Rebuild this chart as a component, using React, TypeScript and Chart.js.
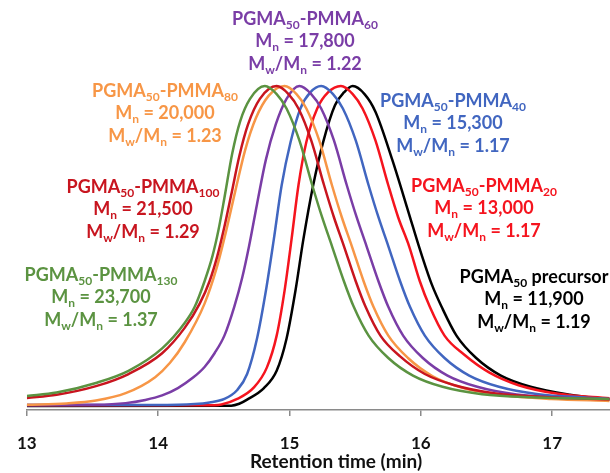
import { useEffect, useRef } from 'react';
import { Chart, registerables } from 'chart.js';

Chart.register(...registerables);

// Retention time axis
const xMin = 13;
const xMax = 17.44;
const tickValues = [13, 14, 15, 16, 17];
const axisTitle = 'Retention time (min)';

// PGMA50-PMMA130 (green)
const pmma130Time = [13.0, 13.226, 13.526, 13.774, 14.03, 14.203, 14.278, 14.353, 14.414, 14.459, 14.504, 14.564, 14.624, 14.699, 14.812, 14.902, 14.977, 15.075, 15.173, 15.248, 15.323, 15.414, 15.489, 15.602, 15.752, 15.94, 16.165, 16.466, 16.842, 17.436];
const pmma130Signal = [0.031, 0.042, 0.072, 0.11, 0.18, 0.26, 0.31, 0.39, 0.47, 0.55, 0.65, 0.79, 0.89, 0.96, 1.0, 0.975, 0.93, 0.83, 0.69, 0.59, 0.5, 0.39, 0.31, 0.22, 0.15, 0.095, 0.06, 0.037, 0.027, 0.022];

// PGMA50-PMMA100 (dark red)
const pmma100Time = [13.0, 13.226, 13.526, 13.774, 14.03, 14.203, 14.316, 14.391, 14.451, 14.504, 14.556, 14.617, 14.684, 14.774, 14.902, 14.992, 15.068, 15.165, 15.263, 15.338, 15.414, 15.504, 15.579, 15.692, 15.842, 16.03, 16.256, 16.556, 16.932, 17.436];
const pmma100Signal = [0.025, 0.035, 0.062, 0.1, 0.165, 0.245, 0.32, 0.39, 0.47, 0.56, 0.66, 0.78, 0.88, 0.96, 1.0, 0.975, 0.93, 0.83, 0.69, 0.59, 0.5, 0.39, 0.31, 0.22, 0.155, 0.1, 0.065, 0.04, 0.028, 0.02];

// PGMA50-PMMA80 (orange)
const pmma80Time = [13.0, 13.301, 13.526, 13.752, 13.977, 14.09, 14.203, 14.353, 14.444, 14.519, 14.586, 14.662, 14.744, 14.842, 14.962, 15.053, 15.128, 15.226, 15.323, 15.398, 15.474, 15.564, 15.639, 15.752, 15.902, 16.09, 16.316, 16.617, 16.992, 17.436];
const pmma80Signal = [0.004, 0.008, 0.017, 0.04, 0.09, 0.135, 0.2, 0.32, 0.43, 0.55, 0.67, 0.8, 0.9, 0.97, 1.0, 0.975, 0.93, 0.83, 0.69, 0.59, 0.5, 0.39, 0.31, 0.22, 0.15, 0.093, 0.057, 0.034, 0.022, 0.016];

// PGMA50-PMMA60 (purple)
const pmma60Time = [13.0, 13.526, 13.752, 13.902, 14.03, 14.15, 14.263, 14.353, 14.429, 14.504, 14.579, 14.639, 14.692, 14.752, 14.82, 14.895, 14.977, 15.075, 15.165, 15.241, 15.338, 15.436, 15.511, 15.586, 15.677, 15.752, 15.865, 16.015, 16.203, 16.429, 16.729, 17.105, 17.436];
const pmma60Signal = [0.003, 0.004, 0.009, 0.019, 0.033, 0.056, 0.088, 0.122, 0.165, 0.22, 0.31, 0.4, 0.5, 0.63, 0.77, 0.88, 0.96, 1.0, 0.975, 0.93, 0.83, 0.69, 0.59, 0.5, 0.39, 0.31, 0.22, 0.15, 0.095, 0.06, 0.036, 0.025, 0.02];

// PGMA50-PMMA40 (blue)
const pmma40Time = [13.0, 13.977, 14.278, 14.391, 14.504, 14.602, 14.677, 14.752, 14.82, 14.88, 14.94, 15.008, 15.083, 15.158, 15.241, 15.331, 15.406, 15.504, 15.602, 15.677, 15.752, 15.842, 15.917, 16.03, 16.18, 16.368, 16.594, 16.895, 17.271, 17.436];
const pmma40Signal = [0.003, 0.003, 0.006, 0.011, 0.022, 0.05, 0.1, 0.21, 0.36, 0.52, 0.69, 0.825, 0.93, 0.98, 1.0, 0.975, 0.93, 0.83, 0.69, 0.59, 0.5, 0.39, 0.31, 0.22, 0.15, 0.095, 0.06, 0.037, 0.026, 0.022];

// PGMA50-PMMA20 (red)
const pmma20Time = [13.0, 14.353, 14.481, 14.602, 14.729, 14.827, 14.902, 14.962, 15.015, 15.068, 15.128, 15.211, 15.293, 15.391, 15.481, 15.556, 15.654, 15.752, 15.827, 15.91, 15.992, 16.068, 16.18, 16.331, 16.519, 16.744, 17.045, 17.436];
const pmma20Signal = [0.002, 0.002, 0.005, 0.022, 0.058, 0.12, 0.22, 0.36, 0.52, 0.69, 0.825, 0.93, 0.98, 1.0, 0.975, 0.93, 0.83, 0.69, 0.59, 0.5, 0.39, 0.31, 0.22, 0.16, 0.105, 0.065, 0.038, 0.024];

// PGMA50 precursor (black)
const precursorTime = [13.0, 14.556, 14.617, 14.677, 14.805, 14.902, 14.977, 15.045, 15.105, 15.18, 15.256, 15.346, 15.414, 15.481, 15.571, 15.654, 15.782, 15.91, 15.992, 16.083, 16.158, 16.271, 16.421, 16.609, 16.835, 17.135, 17.436];
const precursorSignal = [0.0, 0.001, 0.007, 0.02, 0.056, 0.11, 0.21, 0.36, 0.52, 0.69, 0.825, 0.94, 0.98, 1.0, 0.975, 0.92, 0.77, 0.6, 0.49, 0.38, 0.31, 0.22, 0.15, 0.095, 0.06, 0.035, 0.02];

type Seg = [string, boolean];

const seriesColors = ['#5b9341', '#c8151f', '#f79646', '#7a3da6', '#4166c0', '#f5141e', '#000000'];
const seriesTimes = [pmma130Time, pmma100Time, pmma80Time, pmma60Time, pmma40Time, pmma20Time, precursorTime];
const seriesSignals = [pmma130Signal, pmma100Signal, pmma80Signal, pmma60Signal, pmma40Signal, pmma20Signal, precursorSignal];
const seriesNames = ['PGMA50-PMMA130', 'PGMA50-PMMA100', 'PGMA50-PMMA80', 'PGMA50-PMMA60', 'PGMA50-PMMA40', 'PGMA50-PMMA20', 'PGMA50 precursor'];

// Annotation texts
const labelTitles: Seg[][] = [
  [['PGMA', false], ['50', true], ['-PMMA', false], ['130', true]],
  [['PGMA', false], ['50', true], ['-PMMA', false], ['100', true]],
  [['PGMA', false], ['50', true], ['-PMMA', false], ['80', true]],
  [['PGMA', false], ['50', true], ['-PMMA', false], ['60', true]],
  [['PGMA', false], ['50', true], ['-PMMA', false], ['40', true]],
  [['PGMA', false], ['50', true], ['-PMMA', false], ['20', true]],
  [['PGMA', false], ['50', true], [' precursor', false]],
];
const mnValues = ['23,700', '21,500', '20,000', '17,800', '15,300', '13,000', '11,900'];
const pdiValues = ['1.37', '1.29', '1.23', '1.22', '1.17', '1.17', '1.19'];

// label placement (pixel centre of first line)
const labelPos = [
  [101, 274],
  [143, 186],
  [165, 90],
  [305, 18],
  [453, 100],
  [484, 185],
  [534, 276],
];
const lineGap = 22.5;

function drawSegs(ctx: CanvasRenderingContext2D, segs: Seg[], cx: number, cy: number, color: string) {
  const mainFont = 'bold 18px Lato';
  const subFont = 'bold 12px Lato';
  let total = 0;
  const widths = segs.map(([t, sub]) => {
    ctx.font = sub ? subFont : mainFont;
    const w = ctx.measureText(t).width;
    total += w;
    return w;
  });
  let x = cx - total / 2;
  const base = cy + 6.5;
  ctx.fillStyle = color;
  ctx.textAlign = 'left';
  ctx.textBaseline = 'alphabetic';
  segs.forEach(([t, sub], i) => {
    ctx.font = sub ? subFont : mainFont;
    ctx.fillText(t, x, sub ? base + 4 : base);
    x += widths[i];
  });
}

const annotationPlugin = {
  id: 'gpcLabels',
  afterDraw(chart: any) {
    const ctx = chart.ctx as CanvasRenderingContext2D;
    ctx.save();
    labelTitles.forEach((title, i) => {
      const [cx, cy] = labelPos[i];
      const col = seriesColors[i];
      drawSegs(ctx, title, cx, cy, col);
      drawSegs(ctx, [['M', false], ['n', true], [' = ' + mnValues[i], false]], cx, cy + lineGap, col);
      drawSegs(ctx, [['M', false], ['w', true], ['/M', false], ['n', true], [' = ' + pdiValues[i], false]], cx, cy + 2 * lineGap, col);
    });
    ctx.font = 'bold 19px Lato';
    ctx.fillStyle = '#111111';
    ctx.textAlign = 'center';
    ctx.textBaseline = 'middle';
    ctx.fillText(axisTitle, 336, 462);
    ctx.restore();
  },
};

export default function App() {
  const ref = useRef<HTMLCanvasElement | null>(null);
  useEffect(() => {
    if (!ref.current) return;
    const chart = new Chart(ref.current, {
      type: 'line',
      data: {
        datasets: seriesTimes.map((times, i) => ({
          label: seriesNames[i],
          data: times.map((t, j) => ({ x: t, y: seriesSignals[i][j] })),
          borderColor: seriesColors[i],
          borderWidth: 2.5,
          pointRadius: 0,
          fill: false,
          cubicInterpolationMode: 'monotone' as const,
        })),
      },
      options: {
        animation: false,
        responsive: false,
        devicePixelRatio: 1,
        layout: { padding: { left: 20, right: 0, top: 0, bottom: 0 } },
        plugins: { legend: { display: false }, tooltip: { enabled: false } },
        scales: {
          x: {
            type: 'linear',
            min: xMin,
            max: xMax,
            afterBuildTicks: (scale: any) => {
              scale.ticks = tickValues.map((v) => ({ value: v }));
            },
            afterFit: (scale: any) => {
              scale.height = 63;
            },
            ticks: {
              color: '#111111',
              font: { family: 'Lato', weight: 'bold', size: 17 },
              padding: 17,
              maxRotation: 0,
              callback: (v: any) => String(v),
            },
            grid: { drawOnChartArea: false, drawTicks: true, tickLength: 6, color: '#8a8a8a', lineWidth: 1.5 },
            border: { display: true, color: '#8a8a8a', width: 1.5 },
          },
          y: { display: false, min: -0.0125, max: 1.269 },
        },
      },
      plugins: [annotationPlugin],
    });
    return () => chart.destroy();
  }, []);
  return (
    <div style={{ position: 'absolute', left: 0, top: 0, width: 610, height: 473, background: '#fff' }}>
      <canvas ref={ref} width={610} height={473} />
    </div>
  );
}
